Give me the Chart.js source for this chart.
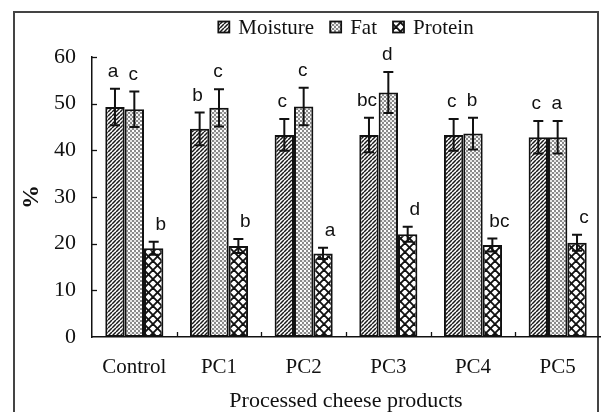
<!DOCTYPE html>
<html><head><meta charset="utf-8">
<script src="https://cdn.jsdelivr.net/npm/chart.js@4.4.1/dist/chart.umd.min.js"></script>
<style>html,body{margin:0;padding:0;background:#fff;}</style>
</head><body>
<canvas id="c" width="601" height="412"></canvas>
<script>
const categories = ['Control', 'PC1', 'PC2', 'PC3', 'PC4', 'PC5'];
const seriesNames = ['Moisture', 'Fat', 'Protein'];
const moisture = [49.3, 44.6, 43.3, 43.3, 43.3, 42.8];
const fat = [48.8, 49.1, 49.4, 52.4, 43.6, 42.8];
const protein = [19.0, 19.5, 17.9, 22.0, 19.7, 20.2];
const moistureErr = [3.9, 3.5, 3.4, 3.7, 3.4, 3.5];
const fatErr = [3.8, 4.0, 4.0, 4.4, 3.4, 3.5];
const proteinErr = [1.4, 1.5, 1.2, 1.6, 1.4, 1.7];
const moistureLetters = ['a', 'b', 'c', 'bc', 'c', 'c'];
const fatLetters = ['c', 'c', 'c', 'd', 'b', 'a'];
const proteinLetters = ['b', 'b', 'a', 'd', 'bc', 'c'];
const yTickValues = [0, 10, 20, 30, 40, 50, 60];
const xTitle = 'Processed cheese products';
const yTitle = '%';

const SERIF = "'Liberation Serif', 'Times New Roman', serif";
const SANS = "'Liberation Sans', Arial, sans-serif";

function makePattern(kind) {
  const c = document.createElement('canvas');
  const g = c.getContext('2d');
  if (kind === 'hatch') {
    const s = 4; c.width = s; c.height = s;
    g.fillStyle = '#fff'; g.fillRect(0, 0, s, s);
    g.strokeStyle = '#1a1a1a'; g.lineWidth = 1.5;
    for (const o of [-s, 0, s]) {
      g.beginPath(); g.moveTo(o, s); g.lineTo(o + s, 0); g.stroke();
    }
  } else if (kind === 'dots') {
    const s = 4; c.width = s; c.height = s;
    g.fillStyle = '#fff'; g.fillRect(0, 0, s, s);
    g.fillStyle = '#8a8a8a';
    g.fillRect(0, 0, 2, 2); g.fillRect(2, 2, 2, 2);
    g.fillStyle = '#e4e4e4';
    g.fillRect(2, 0, 2, 2);
  } else {
    const s = 9; c.width = s; c.height = s;
    g.fillStyle = '#fff'; g.fillRect(0, 0, s, s);
    g.strokeStyle = '#111'; g.lineWidth = 1.9;
    for (const o of [-s, 0, s]) {
      g.beginPath(); g.moveTo(o, 0); g.lineTo(o + s, s); g.stroke();
      g.beginPath(); g.moveTo(o, s); g.lineTo(o + s, 0); g.stroke();
    }
  }
  return g.createPattern(c, 'repeat');
}

const patterns = [makePattern('hatch'), makePattern('dots'), makePattern('cross')];
const values = [moisture, fat, protein];
const errors = [moistureErr, fatErr, proteinErr];
const letters = [moistureLetters, fatLetters, proteinLetters];
const letterDx = [-2, -1, 7];

const framePlugin = {
  id: 'frame',
  beforeDraw(chart) {
    const ctx = chart.ctx;
    ctx.save();
    ctx.fillStyle = '#fff';
    ctx.fillRect(0, 0, chart.width, chart.height);
    ctx.strokeStyle = '#444';
    ctx.lineWidth = 2;
    ctx.strokeRect(14, 12, 584, 420);
    ctx.restore();
  }
};

const extrasPlugin = {
  id: 'extras',
  afterDatasetsDraw(chart) {
    const ctx = chart.ctx;
    const y = chart.scales.y, x = chart.scales.x;
    const area = chart.chartArea;
    ctx.save();
    ctx.strokeStyle = '#111'; ctx.lineWidth = 1.3;
    yTickValues.forEach(v => {
      if (v === 0) return;
      const py = Math.round(y.getPixelForValue(v)) + 0.5;
      ctx.beginPath(); ctx.moveTo(area.left, py); ctx.lineTo(area.left + 5, py); ctx.stroke();
    });
    for (let k = 1; k < categories.length; k++) {
      const px = Math.round((x.getPixelForValue(k - 1) + x.getPixelForValue(k)) / 2) + 0.5;
      ctx.beginPath(); ctx.moveTo(px, area.bottom); ctx.lineTo(px, area.bottom - 5); ctx.stroke();
    }
    values.forEach((vals, di) => {
      const meta = chart.getDatasetMeta(di);
      meta.data.forEach((bar, i) => {
        const v = vals[i], e = errors[di][i];
        const top = y.getPixelForValue(v + e);
        const bot = y.getPixelForValue(v - e);
        const bx = bar.x;
        ctx.strokeStyle = '#111'; ctx.lineWidth = 2;
        ctx.beginPath();
        ctx.moveTo(bx, top); ctx.lineTo(bx, bot);
        ctx.moveTo(bx - 5, top); ctx.lineTo(bx + 5, top);
        ctx.moveTo(bx - 5, bot); ctx.lineTo(bx + 5, bot);
        ctx.stroke();
        ctx.fillStyle = '#111';
        ctx.font = '19px ' + SANS;
        ctx.textAlign = 'center';
        ctx.textBaseline = 'alphabetic';
        ctx.fillText(letters[di][i], bx + letterDx[di], top - 12);
      });
    });
    ctx.font = '21px ' + SERIF;
    ctx.textBaseline = 'middle';
    ctx.textAlign = 'left';
    const box = 11, gap = 9, itemGap = 16;
    const widths = seriesNames.map(n => box + gap + ctx.measureText(n).width);
    const total = widths.reduce((a, b) => a + b, 0) + itemGap * (seriesNames.length - 1);
    let lx = (area.left + area.right) / 2 - total / 2;
    const ly = 27;
    seriesNames.forEach((n, i) => {
      ctx.fillStyle = patterns[i];
      ctx.fillRect(lx, ly - box / 2, box, box);
      ctx.strokeStyle = '#111'; ctx.lineWidth = 1.8;
      ctx.strokeRect(lx, ly - box / 2, box, box);
      ctx.fillStyle = '#111';
      ctx.fillText(n, lx + box + gap, ly + 1);
      lx += widths[i] + itemGap;
    });
    ctx.restore();
  }
};

new Chart(document.getElementById('c'), {
  type: 'bar',
  data: {
    labels: categories,
    datasets: seriesNames.map((n, i) => ({
      label: n,
      data: values[i],
      backgroundColor: patterns[i],
      borderColor: '#111',
      borderWidth: 2,
      borderSkipped: false,
      categoryPercentage: 0.686,
      barPercentage: 1.0
    }))
  },
  options: {
    responsive: false,
    devicePixelRatio: 1,
    animation: false,
    layout: { padding: { top: 57, left: 0, right: 1, bottom: 0 } },
    plugins: { legend: { display: false }, tooltip: { enabled: false } },
    scales: {
      x: {
        grid: { display: false, drawTicks: false },
        border: { display: true, color: '#111', width: 1.5 },
        ticks: { color: '#111', font: { family: SERIF, size: 21 }, padding: 18, maxRotation: 0, autoSkip: false },
        title: { display: true, text: xTitle, color: '#111', font: { family: SERIF, size: 22, lineHeight: 1.0 }, padding: { top: 0, bottom: 0 } },
        afterFit(s) { s.height = 75; }
      },
      y: {
        min: 0, max: 60,
        afterBuildTicks(s) { s.ticks = yTickValues.map(v => ({ value: v })); },
        grid: { display: false, drawTicks: false },
        border: { display: true, color: '#111', width: 1.5 },
        ticks: { color: '#111', font: { family: SERIF, size: 22 }, padding: 16 },
        title: { display: true, text: yTitle, color: '#111', font: { family: SERIF, size: 24, weight: 'bold', lineHeight: 1.0 }, padding: { top: 20, bottom: 0 } },
        afterFit(s) { s.width = 92; }
      }
    }
  },
  plugins: [framePlugin, extrasPlugin]
});
</script>
</body></html>
